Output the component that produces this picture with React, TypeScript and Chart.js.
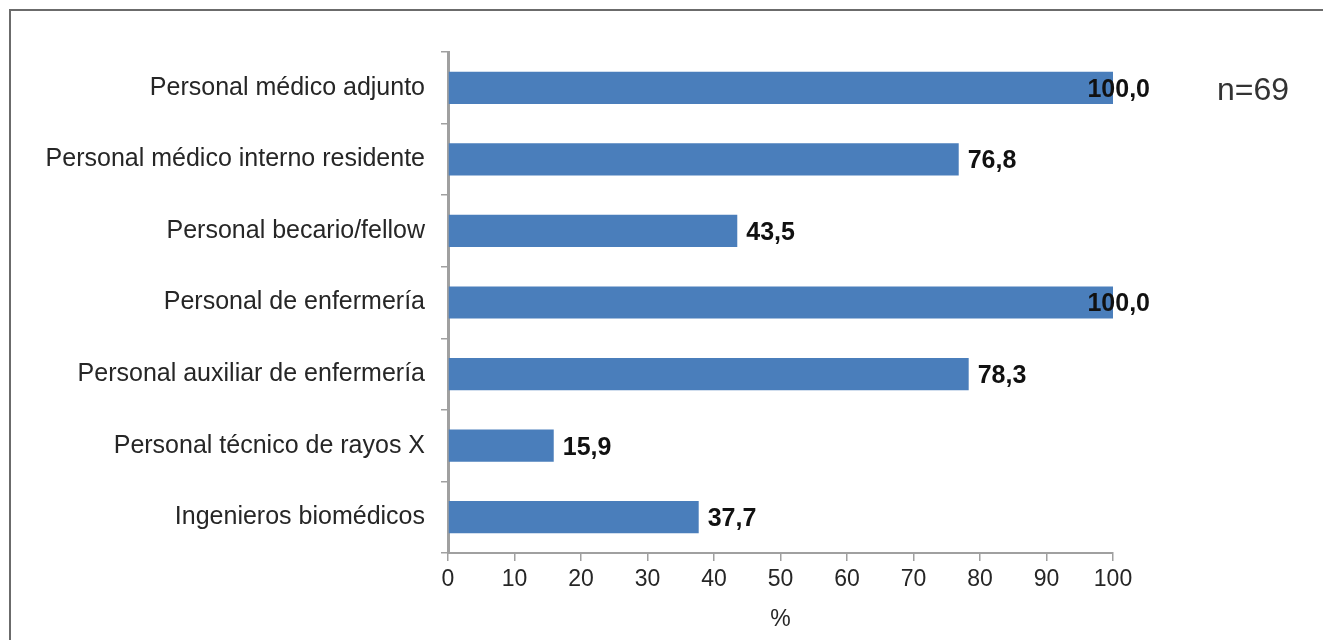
import React, { useEffect, useRef } from "react";
import { Chart, registerables } from "chart.js";

Chart.register(...registerables);

const categories: string[] = [
  "Personal médico adjunto",
  "Personal médico interno residente",
  "Personal becario/fellow",
  "Personal de enfermería",
  "Personal auxiliar de enfermería",
  "Personal técnico de rayos X",
  "Ingenieros biomédicos",
];

const percentages: number[] = [100.0, 76.8, 43.5, 100.0, 78.3, 15.9, 37.7];

const xTicks: number[] = [0, 10, 20, 30, 40, 50, 60, 70, 80, 90, 100];

const sampleNote = "n=69";
const axisTitle = "%";

const FONT = "'Liberation Sans', Arial, sans-serif";
const BAR_COLOR = "#4A7EBB";
const TEXT_COLOR = "#262626";
const AXIS_COLOR = "#A0A0A0";

// Draws the value next to each bar (decimal comma), kept inside the label zone.
const valueLabels = {
  id: "valueLabels",
  afterDatasetsDraw(chart: any) {
    const { ctx } = chart;
    const meta = chart.getDatasetMeta(0);
    const limitRight = chart.chartArea.right + 37;
    ctx.save();
    ctx.font = `bold 25px ${FONT}`;
    ctx.fillStyle = "#111";
    ctx.textBaseline = "middle";
    ctx.textAlign = "left";
    meta.data.forEach((bar: any, i: number) => {
      const text = percentages[i].toFixed(1).replace(".", ",");
      const w = ctx.measureText(text).width;
      let x = bar.x + 9;
      if (x + w > limitRight) x = limitRight - w;
      ctx.fillText(text, x, bar.y + 2);
    });
    // sample size note
    ctx.font = `32px ${FONT}`;
    ctx.fillStyle = "#333";
    ctx.fillText(sampleNote, 1217, 91);
    ctx.restore();
  },
};

export default function App() {
  const canvasRef = useRef<HTMLCanvasElement | null>(null);

  useEffect(() => {
    if (!canvasRef.current) return;
    const chart = new Chart(canvasRef.current, {
      type: "bar",
      data: {
        labels: categories,
        datasets: [
          {
            data: percentages,
            backgroundColor: BAR_COLOR,
            borderWidth: 0,
            categoryPercentage: 1,
            barPercentage: 0.45,
          },
        ],
      },
      options: {
        indexAxis: "y",
        animation: false,
        responsive: false,
        maintainAspectRatio: false,
        layout: { padding: { top: 52, right: 210, left: 0, bottom: 0 } },
        plugins: {
          legend: { display: false },
          tooltip: { enabled: false },
          title: { display: false },
        },
        scales: {
          x: {
            type: "linear",
            min: 0,
            max: 100,
            afterBuildTicks: (scale: any) => {
              scale.ticks = xTicks.map((v) => ({ value: v }));
            },
            afterFit: (scale: any) => {
              scale.height = 640 - 553;
            },
            grid: {
              drawOnChartArea: false,
              drawTicks: true,
              tickLength: 8,
              color: AXIS_COLOR,
              lineWidth: 1.5,
            },
            border: { display: true, color: AXIS_COLOR, width: 2 },
            ticks: {
              color: TEXT_COLOR,
              font: { family: FONT, size: 23 },
              padding: 5,
              maxRotation: 0,
            },
            title: {
              display: true,
              text: axisTitle,
              color: TEXT_COLOR,
              font: { family: FONT, size: 23 },
              padding: { top: 0, bottom: 7 },
            },
          },
          y: {
            type: "category",
            afterFit: (scale: any) => {
              scale.width = 448;
            },
            grid: {
              offset: true,
              drawOnChartArea: false,
              drawTicks: true,
              tickLength: 7,
              color: AXIS_COLOR,
              lineWidth: 1.5,
            },
            border: { display: true, color: AXIS_COLOR, width: 3 },
            ticks: {
              color: TEXT_COLOR,
              font: { family: FONT, size: 25 },
              padding: 16,
            },
          },
        },
      },
      plugins: [valueLabels],
    });
    return () => chart.destroy();
  }, []);

  return (
    <div
      style={{
        position: "fixed",
        left: 0,
        top: 0,
        width: 1323,
        height: 640,
        background: "#fff",
        overflow: "hidden",
      }}
    >
      <div
        style={{
          position: "absolute",
          left: 9,
          top: 9,
          width: 1400,
          height: 700,
          borderTop: "2px solid #6b6b6b",
          borderLeft: "2px solid #6b6b6b",
        }}
      />
      <canvas
        ref={canvasRef}
        width={1323}
        height={640}
        style={{ position: "absolute", left: 0, top: 0, width: 1323, height: 640 }}
      />
    </div>
  );
}
